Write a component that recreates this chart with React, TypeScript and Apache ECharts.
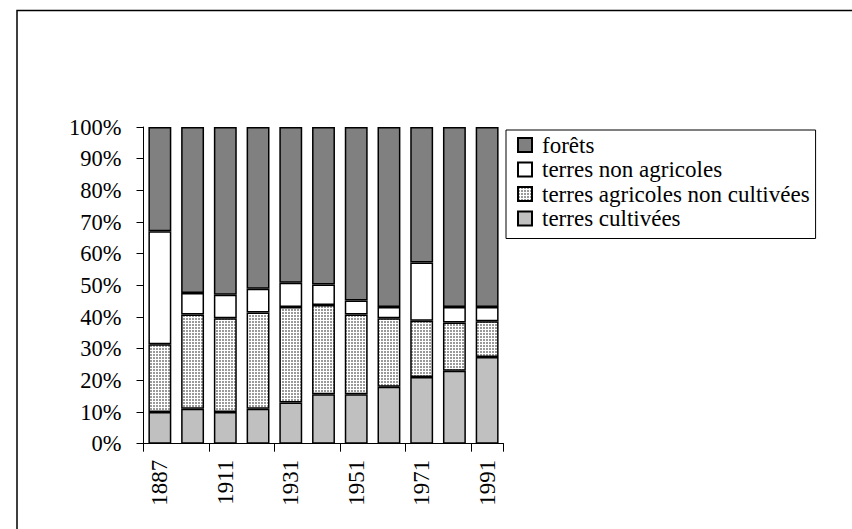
import React, { useEffect, useRef } from "react";
import * as echarts from "echarts";

const categories = ["1887", "1900", "1911", "1921", "1931", "1941", "1951", "1961", "1971", "1981", "1991"];
const terresCultivees = [10, 11, 10, 11, 13, 15.6, 15.6, 18, 21.1, 23, 27.4];
const terresAgricolesNonCultivees = [21.4, 29.8, 29.6, 30.4, 30.2, 28.2, 25.2, 21.6, 17.7, 15.3, 11.3];
const terresNonAgricoles = [35.7, 6.8, 7.4, 7.5, 7.6, 6.5, 4.4, 3.6, 18.4, 4.9, 4.5];
const forets = [32.9, 52.4, 53, 51.1, 49.2, 49.7, 54.8, 56.8, 42.8, 56.8, 56.8];
const yTicks = [0, 10, 20, 30, 40, 50, 60, 70, 80, 90, 100];

const FONT = "Liberation Serif";

function makePattern() {
  const c = document.createElement("canvas");
  c.width = 3;
  c.height = 3;
  const ctx = c.getContext("2d")!;
  ctx.fillStyle = "#ffffff";
  ctx.fillRect(0, 0, 3, 3);
  ctx.fillStyle = "#9a9a9a";
  ctx.fillRect(0, 0, 2, 2);
  return c;
}

export default function App() {
  const ref = useRef<HTMLDivElement>(null);
  useEffect(() => {
    const chart = echarts.init(ref.current!, null, { renderer: "svg" });
    const pattern = makePattern();
    const border = { borderColor: "#000", borderWidth: 1.5 };
    const mk = (name: string, data: number[], color: any) => ({
      name,
      type: "bar",
      stack: "total",
      data,
      barWidth: "70%",
      itemStyle: { color, ...border },
      emphasis: { disabled: true },
    });
    chart.setOption({
      animation: false,
      backgroundColor: "#fff",
      textStyle: { fontFamily: FONT },
      graphic: [
        {
          type: "rect",
          shape: { x: 17, y: 10.5, width: 900, height: 600 },
          style: { fill: "none", stroke: "#000", lineWidth: 1.5 },
          silent: true,
        },
      ],
      grid: { left: 143.5, right: 348.5, top: 127, bottom: 85.3, containLabel: false },
      legend: {
        orient: "vertical",
        left: 506,
        top: 130,
        width: 310,
        padding: [3, 6, 8, 11],
        icon: "rect",
        itemWidth: 14,
        itemHeight: 14,
        itemGap: 0.5,
        borderColor: "#000",
        borderWidth: 1,
        selectedMode: false,
        data: ["forêts", "terres non agricoles", "terres agricoles non cultivées", "terres cultivées"],
        textStyle: { fontFamily: FONT, fontSize: 23, color: "#000", lineHeight: 24, padding: [0, 0, 0, 5] },
      },
      xAxis: {
        type: "category",
        data: categories,
        axisLine: { lineStyle: { color: "#000", width: 1 } },
        axisTick: { show: true, length: 8, lineStyle: { color: "#000" } },
        axisLabel: { interval: 1, rotate: 90, margin: 16, fontFamily: FONT, fontSize: 23, color: "#000" },
      },
      yAxis: {
        type: "value",
        min: yTicks[0],
        max: yTicks[yTicks.length - 1],
        interval: 10,
        axisLine: { show: true, lineStyle: { color: "#000", width: 1 } },
        axisTick: { show: true, length: 7, lineStyle: { color: "#000" } },
        splitLine: { show: false },
        axisLabel: { formatter: "{value}%", margin: 22, fontFamily: FONT, fontSize: 22.5, color: "#000" },
      },
      series: [
        mk("terres cultivées", terresCultivees, "#c0c0c0"),
        mk("terres agricoles non cultivées", terresAgricolesNonCultivees, {
          image: pattern,
          repeat: "repeat",
          imageWidth: 3,
          imageHeight: 3,
        }),
        mk("terres non agricoles", terresNonAgricoles, "#ffffff"),
        mk("forêts", forets, "#808080"),
      ],
    });
    return () => chart.dispose();
  }, []);
  return (
    <div
      ref={ref}
      style={{ position: "absolute", left: 0, top: 0, width: 852, height: 529, background: "#fff" }}
    />
  );
}
